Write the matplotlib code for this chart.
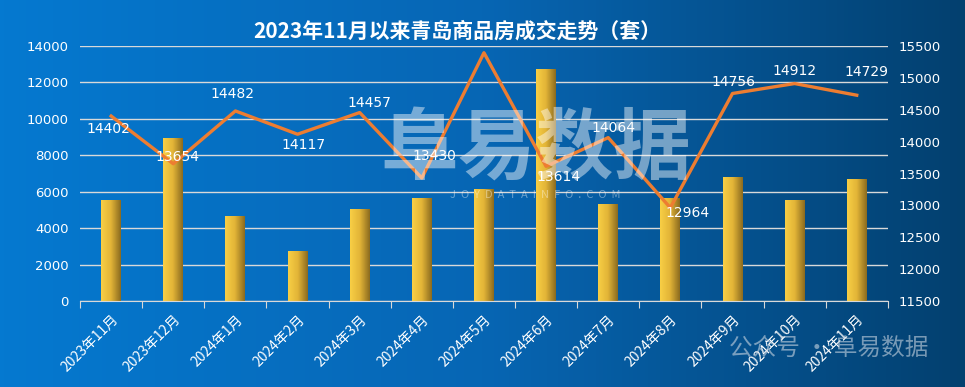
import numpy as np
import matplotlib.pyplot as plt
from matplotlib.colors import LinearSegmentedColormap

plt.rcParams['font.family'] = ['Noto Sans CJK SC', 'DejaVu Sans']

# ------------------#
# Data
# ------------------#
months = ['2023年11月', '2023年12月', '2024年1月', '2024年2月', '2024年3月',
          '2024年4月', '2024年5月', '2024年6月', '2024年7月', '2024年8月',
          '2024年9月', '2024年10月', '2024年11月']
bar_values = [5500, 8900, 4650, 2700, 5050, 5650, 6100, 12700, 5270, 5650,
              6800, 5500, 6650]
line_values = [14402, 13654, 14482, 14117, 14457, 13430, 15395, 13614, 14064,
               12964, 14756, 14912, 14729]
show_label = [True, True, True, True, True, True, False, True, True, True,
              True, True, True]
# label offsets (points) relative to each line point
label_offsets = [(-2, -9), (3, 5), (-2, 12), (4, -8), (7, 7), (9, 16), (0, 0),
                 (9, -8), (4, 7), (12, -4), (1, 8), (0, 9), (7, 17)]

# ------------------#
# Figure
# ------------------#
fig = plt.figure(figsize=(9.65, 3.87), dpi=100)

bg = fig.add_axes([0, 0, 1, 1], zorder=-10)
bg_cmap = LinearSegmentedColormap.from_list('bg', ['#0579d0', '#0766b4', '#03406f'])
bg.imshow(np.linspace(0, 1, 256).reshape(1, -1), cmap=bg_cmap, aspect='auto',
          extent=[0, 1, 0, 1])
bg.set_xlim(0, 1)
bg.set_ylim(0, 1)
bg.axis('off')

ax1 = fig.add_axes([0.083, 0.222, 0.837, 0.659])
ax1.patch.set_alpha(0)
ax2 = ax1.twinx()

x = np.arange(len(months))
w = 0.32
gold = LinearSegmentedColormap.from_list('gold', ['#f8cf45', '#e2b437', '#8b6b1f'])
grad = np.linspace(0, 1, 64).reshape(1, -1)
for xi, v in zip(x, bar_values):
    ax1.imshow(grad, cmap=gold, aspect='auto', extent=[xi - w / 2, xi + w / 2, 0, v],
               zorder=2)

ax1.set_xlim(-0.5, len(months) - 0.5)
ax1.set_ylim(0, 14000)
ax1.set_yticks(np.arange(0, 14001, 2000))
ax1.grid(axis='y', color='#d9d9d9', lw=1)
ax1.set_axisbelow(True)

ax2.plot(x, line_values, color='#ed7d31', lw=2.4, zorder=3)
ax2.set_ylim(11500, 15500)
ax2.set_yticks(np.arange(11500, 15501, 500))
for xi, v, show, off in zip(x, line_values, show_label, label_offsets):
    if show:
        ax2.annotate(str(v), (xi, v), xytext=off, textcoords='offset points',
                     ha='center', va='center', color='white', fontsize=10,
                     family='DejaVu Sans')

for ax in (ax1, ax2):
    for s in ax.spines.values():
        s.set_visible(False)
    ax.tick_params(axis='y', length=0, colors='white', labelsize=9.5, pad=8)
    for t in ax.get_yticklabels():
        t.set_family('DejaVu Sans')

ax1.spines['bottom'].set_visible(True)
ax1.spines['bottom'].set_color('#d9d9d9')
ax1.set_xticks(np.arange(-0.5, len(months), 1))
ax1.set_xticklabels([])
ax1.set_xticks(x, minor=True)
ax1.set_xticklabels(months, minor=True, rotation=45, ha='right',
                    rotation_mode='anchor', color='white', fontsize=10)
ax1.tick_params(axis='x', which='major', length=5, color='#d9d9d9', direction='out')
ax1.tick_params(axis='x', which='minor', length=0, pad=8)

fig.text(0.474, 0.92, '2023年11月以来青岛商品房成交走势（套）', ha='center',
         va='center', color='white', fontsize=15, fontweight='bold')

# watermarks
fig.text(0.555, 0.61, '阜易数据', ha='center', va='center', color='white',
         alpha=0.45, fontsize=56, fontweight='bold')
fig.text(0.555, 0.495, 'J  O  Y  D  A  T  A  I  N  F  O  .  C  O  M', ha='center',
         va='center', color='white', alpha=0.4, fontsize=8)
fig.text(0.755, 0.10, '公众号 · 阜易数据', ha='left', va='center', color='#c8d4e0',
         alpha=0.6, fontsize=17)

fig.savefig('out.png', dpi=100)
